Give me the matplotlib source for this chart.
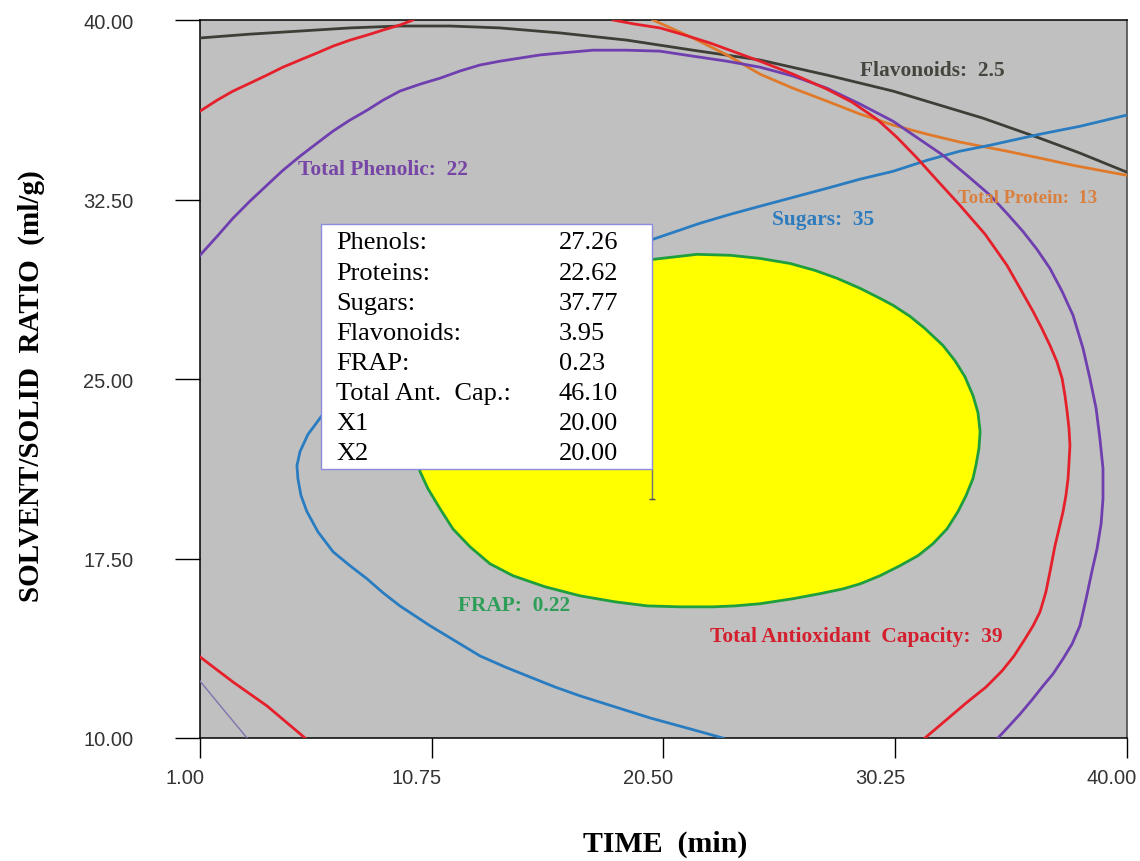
import matplotlib
matplotlib.use('Agg')
import matplotlib.pyplot as plt
from matplotlib.patches import Rectangle
from matplotlib.transforms import ScaledTranslation

# Overlay plot: TIME (min) vs SOLVENT/SOLID ratio (ml/g)
x_ticks = [1.00, 10.75, 20.50, 30.25, 40.00]
y_ticks = [10.00, 17.50, 25.00, 32.50, 40.00]

# Total Antioxidant Capacity = 39 (three pieces inside the window)
tac_a_x = [1.00, 1.72, 2.39, 3.10, 3.82, 4.49, 5.21, 5.92, 6.60, 7.31, 8.03, 8.70, 9.41, 9.96]
tac_a_y = [36.19, 36.65, 37.03, 37.36, 37.70, 38.03, 38.33, 38.62, 38.91, 39.16, 39.37,
           39.58, 39.79, 40.00]
tac_b_x = [18.38, 19.30, 20.35, 21.40, 22.46, 23.51, 24.56, 25.95, 27.38, 28.43, 29.48,
           30.32, 31.17, 32.05, 32.97, 34.03, 34.95, 35.50, 36.05, 36.42, 36.76, 37.05,
           37.27, 37.39, 37.48, 37.56, 37.60, 37.56, 37.52, 37.43, 37.31, 37.14, 36.97,
           36.76, 36.59, 36.34, 36.05, 35.71, 35.25, 34.74, 34.07, 33.23, 32.39, 31.50]
tac_b_y = [40.00, 39.83, 39.67, 39.37, 39.04, 38.66, 38.28, 37.74, 37.11, 36.57, 35.86,
           35.10, 34.23, 33.26, 32.26, 31.05, 29.75, 28.79, 27.82, 27.11, 26.40, 25.73,
           25.02, 24.31, 23.64, 22.93, 22.22, 21.51, 20.84, 20.13, 19.46, 18.74, 18.03,
           16.95, 16.11, 15.27, 14.69, 14.14, 13.43, 12.80, 12.13, 11.46, 10.75, 10.00]
tac_c_x = [1.00, 2.39, 3.82, 5.42]
tac_c_y = [13.39, 12.34, 11.34, 10.00]

# Total Phenolic = 22
phen_x = [1.00, 1.72, 2.39, 3.10, 3.82, 4.49, 5.21, 5.92, 6.60, 7.31, 8.03, 8.70, 9.41,
          10.26, 11.10, 11.94, 12.78, 13.62, 14.46, 15.30, 16.15, 17.53, 18.96, 20.35,
          21.74, 23.17, 24.56, 25.95, 27.38, 28.77, 30.16, 31.21, 32.26, 33.27, 34.24,
          34.95, 35.62, 36.21, 36.76, 37.27, 37.73, 38.15, 38.44, 38.70, 38.86, 38.99,
          38.99, 38.91, 38.74, 38.53, 38.28, 38.02, 37.69, 37.31, 36.89, 36.47, 36.00,
          35.50, 35.04, 34.57]
phen_y = [30.17, 30.96, 31.72, 32.43, 33.10, 33.72, 34.31, 34.85, 35.36, 35.82, 36.23,
          36.65, 37.03, 37.32, 37.57, 37.87, 38.12, 38.28, 38.41, 38.54, 38.62, 38.74,
          38.74, 38.70, 38.49, 38.28, 38.03, 37.66, 37.15, 36.49, 35.77, 35.06, 34.35,
          33.51, 32.68, 31.92, 31.17, 30.42, 29.62, 28.66, 27.66, 26.28, 25.02, 23.77,
          22.51, 21.26, 20.00, 18.95, 17.91, 16.99, 15.82, 14.69, 13.93, 13.31, 12.68,
          12.18, 11.59, 11.00, 10.50, 10.00]
phen_low_x = [1.00, 1.97, 2.98]
phen_low_y = [12.38, 11.21, 10.00]

# Flavonoids = 2.5
flav_x = [1.00, 3.10, 5.21, 7.31, 9.41, 11.52, 13.62, 16.15, 18.96, 21.74,
          24.56, 27.38, 30.16, 32.97, 33.94, 36.34, 38.02, 40.00]
flav_y = [39.25, 39.41, 39.54, 39.67, 39.75, 39.75, 39.67, 39.46, 39.16, 38.74,
          38.33, 37.70, 37.03, 36.19, 35.90, 35.06, 34.44, 33.64]

# Total Protein = 13
prot_x = [20.06, 21.74, 23.17, 24.56, 25.95, 27.38, 28.77, 30.16, 31.59, 32.97,
          34.95, 36.34, 37.73, 38.86, 40.00]
prot_y = [40.00, 39.25, 38.54, 37.74, 37.15, 36.61, 36.07, 35.61, 35.23, 34.90,
          34.52, 34.23, 33.93, 33.72, 33.51]

# Sugars = 35
sug_x = [40.00, 38.02, 36.34, 34.24, 32.97, 31.59, 30.16, 28.77, 27.38, 25.95, 24.56,
         23.30, 22.04, 20.06, 16.99, 13.62, 10.26, 7.73, 6.13, 5.54, 5.21, 5.08, 5.12,
         5.25, 5.50, 5.96, 6.60, 7.31, 8.03, 8.70, 9.41, 10.68, 11.73, 12.78, 13.83,
         14.88, 15.94, 16.99, 18.46, 19.93, 21.62, 23.00]
sug_y = [36.03, 35.56, 35.23, 34.77, 34.52, 34.14, 33.68, 33.35, 32.97, 32.59, 32.22,
         31.88, 31.51, 30.84, 29.96, 28.70, 27.11, 25.44, 23.47, 22.68, 21.97, 21.38,
         20.84, 20.13, 19.46, 18.62, 17.78, 17.20, 16.65, 16.07, 15.52, 14.69, 14.06,
         13.43, 12.97, 12.55, 12.13, 11.76, 11.30, 10.84, 10.38, 10.00]

# FRAP = 0.22 (closed, feasible region inside)
frap_x = [21.91, 23.30, 24.56, 25.82, 26.87, 27.80, 28.77, 29.61, 30.16, 30.87, 31.50,
          32.26, 32.76, 33.18, 33.52, 33.73, 33.82, 33.77, 33.65, 33.52, 33.23, 32.89,
          32.43, 31.84, 31.21, 30.45, 29.61, 28.77, 28.05, 27.08, 25.95, 24.56, 23.51,
          22.58, 21.19, 19.81, 18.46, 16.99, 15.51, 14.17, 13.20, 12.36, 11.64, 11.10,
          10.59, 10.26, 10.05, 9.96, 10.05, 10.47, 11.10, 11.94, 13.20, 14.46, 16.15,
          17.83, 20.06, 21.91]
frap_y = [30.21, 30.17, 30.04, 29.83, 29.54, 29.21, 28.79, 28.37, 28.08, 27.62, 27.11,
          26.40, 25.77, 25.10, 24.31, 23.60, 22.80, 22.09, 21.42, 20.84, 20.13, 19.46,
          18.74, 18.12, 17.62, 17.20, 16.78, 16.44, 16.23, 16.03, 15.82, 15.61, 15.52,
          15.48, 15.48, 15.52, 15.69, 15.94, 16.32, 16.78, 17.28, 17.99, 18.74, 19.58,
          20.42, 21.13, 21.84, 22.51, 23.35, 24.18, 25.10, 26.07, 27.11, 27.95, 28.79,
          29.41, 30.00, 30.21]

# flagged point
box_names = ["Phenols:", "Proteins:", "Sugars:", "Flavonoids:", "FRAP:",
             "Total Ant.  Cap.:", "X1", "X2"]
box_values = [27.26, 22.62, 37.77, 3.95, 0.23, 46.10]
flag_x1 = 20.00
flag_x2 = 20.00

serif = ['Liberation Serif', 'DejaVu Serif']
sans = ['Liberation Sans', 'DejaVu Sans']

RED = '#E5202B'
PURPLE = '#6F3FAF'
BLUE = '#2A7CC0'
ORANGE = '#E07A2A'
DARK = '#3E3E36'
GREEN = '#1E9E3C'

fig = plt.figure(figsize=(11.4, 8.62), dpi=100)
ax = fig.add_axes([0.1754, 0.1427, 0.8132, 0.8329])
ax.set_facecolor('#C0C0C0')

lw = 2.0
ax.fill(frap_x, frap_y, facecolor='#FFFF00', edgecolor=GREEN, lw=lw, zorder=2)
ax.plot(flav_x, flav_y, color=DARK, lw=lw, zorder=3)
ax.plot(prot_x, prot_y, color=ORANGE, lw=lw, zorder=3)
ax.plot(sug_x, sug_y, color=BLUE, lw=lw, zorder=3)
ax.plot(phen_x, phen_y, color=PURPLE, lw=lw, zorder=3)
ax.plot(phen_low_x, phen_low_y, color='#8272B0', lw=1.0, zorder=3)
for xs, ys in [(tac_a_x, tac_a_y), (tac_b_x, tac_b_y), (tac_c_x, tac_c_y)]:
    ax.plot(xs, ys, color=RED, lw=lw, zorder=3)

lab = dict(family=serif, fontweight='bold', fontsize=15.4, va='center', ha='left', zorder=4)
ax.text(5.12, 33.77, "Total Phenolic:  22", color='#7645A6', **lab)
ax.text(28.77, 37.91, "Flavonoids:  2.5", color='#45453E', **lab)
ax.text(25.06, 31.67, "Sugars:  35", color='#2E7BBE', **lab)
ax.text(11.85, 15.56, "FRAP:  0.22", color='#2E9E58', **lab)
ax.text(22.46, 14.27, "Total Antioxidant  Capacity:  39", color='#D4202E', **lab)
lab['fontsize'] = 13.5
ax.text(32.89, 32.59, "Total Protein:  13", color='#D9803E', **lab)

# flag box
box_left, box_bottom, box_top = 6.09, 21.26, 31.46
ax.plot([flag_x1, flag_x1], [flag_x2, box_bottom], color='#707070', lw=1.0, zorder=5)
ax.plot([flag_x1], [flag_x2], marker='_', ms=5, color='#505050', zorder=5)
ax.add_patch(Rectangle((box_left, box_bottom), flag_x1 - box_left, box_top - box_bottom,
                       facecolor='white', edgecolor='#8C8CDC', lw=1.0, zorder=6))
values = [f"{v:.2f}" for v in box_values] + [f"{flag_x1:.2f}", f"{flag_x2:.2f}"]
row_y = 30.71
for name, val in zip(box_names, values):
    ax.text(6.72, row_y, name, family=serif, fontsize=19, va='center', ha='left', zorder=7)
    ax.text(16.10, row_y, val, family=serif, fontsize=19, va='center', ha='left', zorder=7)
    row_y -= 1.26

ax.set_xlim(1, 40)
ax.set_ylim(10, 40)
ax.set_xticks(x_ticks)
ax.set_yticks(y_ticks)
ax.set_xticklabels([f"{t:.2f}" for t in x_ticks], family=sans, fontsize=14.5, color='#333333')
ax.set_yticklabels([f"{t:.2f}" for t in y_ticks], family=sans, fontsize=14.5, color='#333333')
ax.tick_params(axis='x', direction='out', length=14.5, width=1, pad=7)
ax.tick_params(axis='y', direction='out', length=18, width=1, pad=30)
# x tick labels sit a little left of their ticks
shift = ScaledTranslation(-0.15, 0, fig.dpi_scale_trans)
for t in ax.get_xticklabels():
    t.set_transform(t.get_transform() + shift)
for s in ax.spines.values():
    s.set_linewidth(1.1)
    s.set_color('black')
ax.spines['right'].set_color('#404040')

ax.set_xlabel("TIME  (min)", family=serif, fontweight='bold', fontsize=21.5)
ax.set_ylabel("SOLVENT/SOLID  RATIO  (ml/g)", family=serif, fontweight='bold', fontsize=21)
ax.xaxis.set_label_coords(0.502, -0.128)
ax.yaxis.set_label_coords(-0.167, 0.492)

fig.savefig('out.png', dpi=100)
plt.close(fig)
